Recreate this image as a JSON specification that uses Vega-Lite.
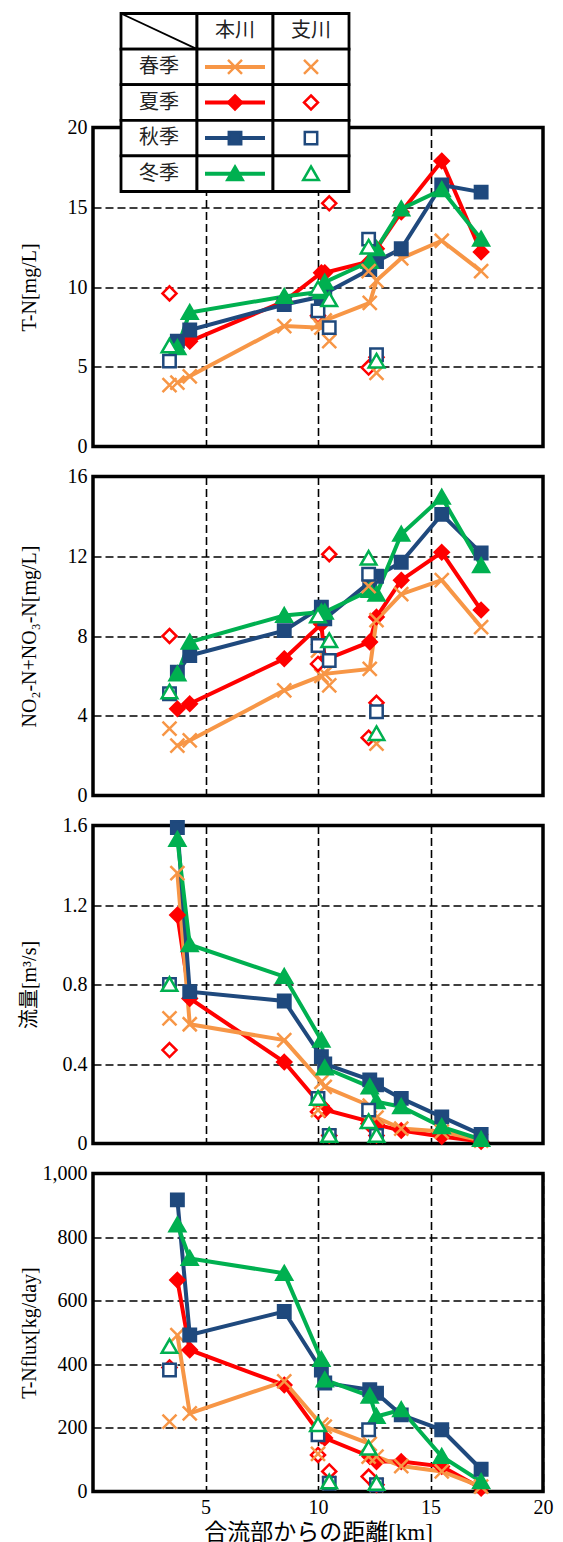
{
  "$schema": "https://vega.github.io/schema/vega-lite/v6.json",
  "background": "white",
  "padding": {"left": 17, "top": 7.5, "right": 5, "bottom": 5},
  "config": {
    "font": "Liberation Serif",
    "view": {"stroke": "black", "strokeWidth": 3.5},
    "axis": {
      "domain": false,
      "ticks": false,
      "grid": true,
      "gridColor": "black",
      "gridDash": [8, 4],
      "gridWidth": 1.6,
      "gridOpacity": 1,
      "labelFlush": false,
      "labelFont": "Liberation Serif",
      "labelFontSize": 20,
      "labelColor": "black",
      "labelPadding": 6,
      "titleFont": "Liberation Serif, Noto Sans CJK JP",
      "titleFontSize": 20,
      "titleFontWeight": "normal",
      "titleColor": "black"
    }
  },
  "datasets": {
    "river": [
      {"s": "夏季", "t": "本川", "km": 3.75, "TN": 6.4, "NOx": 4.35, "Q": 1.15, "F": 665},
      {"s": "夏季", "t": "本川", "km": 4.3, "TN": 6.6, "NOx": 4.6, "Q": 0.73, "F": 445},
      {"s": "夏季", "t": "本川", "km": 8.5, "TN": 9.1, "NOx": 6.86, "Q": 0.41, "F": 335},
      {"s": "夏季", "t": "本川", "km": 10.15, "TN": 10.9, "NOx": 8.6, "Q": 0.19, "F": 175},
      {"s": "夏季", "t": "本川", "km": 10.3, "TN": 10.9, "NOx": 6.8, "Q": 0.17, "F": 168},
      {"s": "夏季", "t": "本川", "km": 12.3, "TN": 11.6, "NOx": 7.7, "Q": 0.11, "F": 110},
      {"s": "夏季", "t": "本川", "km": 12.6, "TN": 12.4, "NOx": 8.95, "Q": 0.095, "F": 94},
      {"s": "夏季", "t": "本川", "km": 13.7, "TN": 14.7, "NOx": 10.8, "Q": 0.065, "F": 94},
      {"s": "夏季", "t": "本川", "km": 15.5, "TN": 17.9, "NOx": 12.2, "Q": 0.035, "F": 79},
      {"s": "夏季", "t": "本川", "km": 17.25, "TN": 12.2, "NOx": 9.3, "Q": 0.01, "F": 10},
      {"s": "夏季", "t": "支川", "km": 3.4, "TN": 9.6, "NOx": 8.0, "Q": 0.47, "F": 390},
      {"s": "夏季", "t": "支川", "km": 10.0, "TN": 8.2, "NOx": 6.6, "Q": 0.16, "F": 115},
      {"s": "夏季", "t": "支川", "km": 10.5, "TN": 15.25, "NOx": 12.1, "Q": 0.04, "F": 63},
      {"s": "夏季", "t": "支川", "km": 12.25, "TN": 4.95, "NOx": 2.9, "Q": 0.1, "F": 47},
      {"s": "夏季", "t": "支川", "km": 12.6, "TN": 5.6, "NOx": 4.65, "Q": 0.04, "F": 21},

      {"s": "春季", "t": "本川", "km": 3.75, "TN": 4.0, "NOx": 2.5, "Q": 1.36, "F": 492},
      {"s": "春季", "t": "本川", "km": 4.3, "TN": 4.4, "NOx": 2.76, "Q": 0.6, "F": 246},
      {"s": "春季", "t": "本川", "km": 8.5, "TN": 7.55, "NOx": 5.27, "Q": 0.52, "F": 346},
      {"s": "春季", "t": "本川", "km": 10.15, "TN": 7.45, "NOx": 6.0, "Q": 0.31, "F": 210},
      {"s": "春季", "t": "本川", "km": 10.3, "TN": 7.9, "NOx": 6.1, "Q": 0.285, "F": 204},
      {"s": "春季", "t": "本川", "km": 12.3, "TN": 9.0, "NOx": 6.35, "Q": 0.19, "F": 150},
      {"s": "春季", "t": "本川", "km": 12.6, "TN": 10.4, "NOx": 8.8, "Q": 0.13, "F": 110},
      {"s": "春季", "t": "本川", "km": 13.7, "TN": 11.8, "NOx": 10.1, "Q": 0.075, "F": 80},
      {"s": "春季", "t": "本川", "km": 15.5, "TN": 12.9, "NOx": 10.8, "Q": 0.06, "F": 63},
      {"s": "春季", "t": "本川", "km": 17.25, "TN": 11.0, "NOx": 8.45, "Q": 0.015, "F": 15},
      {"s": "春季", "t": "支川", "km": 3.4, "TN": 3.85, "NOx": 3.35, "Q": 0.63, "F": 220},
      {"s": "春季", "t": "支川", "km": 10.0, "TN": 7.7, "NOx": 7.27, "Q": 0.168, "F": 118},
      {"s": "春季", "t": "支川", "km": 10.5, "TN": 6.6, "NOx": 5.52, "Q": 0.04, "F": 26},
      {"s": "春季", "t": "支川", "km": 12.25, "TN": 11.0, "NOx": 10.5, "Q": 0.11, "F": 110},
      {"s": "春季", "t": "支川", "km": 12.6, "TN": 4.62, "NOx": 2.6, "Q": 0.04, "F": 21},

      {"s": "秋季", "t": "本川", "km": 3.75, "TN": 6.6, "NOx": 6.18, "Q": 1.59, "F": 917},
      {"s": "秋季", "t": "本川", "km": 4.3, "TN": 7.3, "NOx": 7.02, "Q": 0.764, "F": 492},
      {"s": "秋季", "t": "本川", "km": 8.5, "TN": 8.9, "NOx": 8.27, "Q": 0.717, "F": 566},
      {"s": "秋季", "t": "本川", "km": 10.15, "TN": 9.4, "NOx": 9.45, "Q": 0.437, "F": 382},
      {"s": "秋季", "t": "本川", "km": 10.3, "TN": 9.6, "NOx": 8.86, "Q": 0.4, "F": 341},
      {"s": "秋季", "t": "本川", "km": 12.3, "TN": 11.1, "NOx": 10.7, "Q": 0.32, "F": 320},
      {"s": "秋季", "t": "本川", "km": 12.6, "TN": 11.6, "NOx": 11.0, "Q": 0.295, "F": 309},
      {"s": "秋季", "t": "本川", "km": 13.7, "TN": 12.4, "NOx": 11.7, "Q": 0.227, "F": 241},
      {"s": "秋季", "t": "本川", "km": 15.5, "TN": 16.4, "NOx": 14.1, "Q": 0.134, "F": 194},
      {"s": "秋季", "t": "本川", "km": 17.25, "TN": 15.95, "NOx": 12.16, "Q": 0.045, "F": 70},
      {"s": "秋季", "t": "支川", "km": 3.4, "TN": 5.35, "NOx": 5.1, "Q": 0.8, "F": 382},
      {"s": "秋季", "t": "支川", "km": 10.0, "TN": 8.5, "NOx": 7.52, "Q": 0.227, "F": 178},
      {"s": "秋季", "t": "支川", "km": 10.5, "TN": 7.45, "NOx": 6.77, "Q": 0.04, "F": 26},
      {"s": "秋季", "t": "支川", "km": 12.25, "TN": 13.0, "NOx": 11.1, "Q": 0.168, "F": 194},
      {"s": "秋季", "t": "支川", "km": 12.6, "TN": 5.75, "NOx": 4.2, "Q": 0.04, "F": 21},

      {"s": "冬季", "t": "本川", "km": 3.75, "TN": 6.2, "NOx": 6.1, "Q": 1.53, "F": 838},
      {"s": "冬季", "t": "本川", "km": 4.3, "TN": 8.4, "NOx": 7.69, "Q": 1.0, "F": 733},
      {"s": "冬季", "t": "本川", "km": 8.5, "TN": 9.4, "NOx": 9.03, "Q": 0.84, "F": 686},
      {"s": "冬季", "t": "本川", "km": 10.15, "TN": 9.7, "NOx": 9.2, "Q": 0.52, "F": 415},
      {"s": "冬季", "t": "本川", "km": 10.3, "TN": 10.3, "NOx": 9.2, "Q": 0.38, "F": 351},
      {"s": "冬季", "t": "本川", "km": 12.3, "TN": 11.6, "NOx": 10.28, "Q": 0.285, "F": 300},
      {"s": "冬季", "t": "本川", "km": 12.6, "TN": 12.4, "NOx": 10.1, "Q": 0.21, "F": 236},
      {"s": "冬季", "t": "本川", "km": 13.7, "TN": 14.9, "NOx": 13.1, "Q": 0.185, "F": 257},
      {"s": "冬季", "t": "本川", "km": 15.5, "TN": 16.1, "NOx": 14.96, "Q": 0.084, "F": 110},
      {"s": "冬季", "t": "本川", "km": 17.25, "TN": 13.0, "NOx": 11.53, "Q": 0.02, "F": 31},
      {"s": "冬季", "t": "支川", "km": 3.4, "TN": 6.3, "NOx": 5.2, "Q": 0.8, "F": 456},
      {"s": "冬季", "t": "支川", "km": 10.0, "TN": 9.9, "NOx": 9.0, "Q": 0.227, "F": 210},
      {"s": "冬季", "t": "支川", "km": 10.5, "TN": 9.2, "NOx": 7.77, "Q": 0.04, "F": 30},
      {"s": "冬季", "t": "支川", "km": 12.25, "TN": 12.5, "NOx": 11.9, "Q": 0.11, "F": 136},
      {"s": "冬季", "t": "支川", "km": 12.6, "TN": 5.35, "NOx": 3.1, "Q": 0.04, "F": 25}
    ],
    "legendTable": [
      {"r": "hdr", "c": "c0"},
      {"r": "hdr", "c": "本川", "txt": "本川"},
      {"r": "hdr", "c": "支川", "txt": "支川"},
      {"r": "春季", "c": "c0", "txt": "春季"},
      {"r": "春季", "c": "本川", "s": "春季"},
      {"r": "春季", "c": "支川", "s": "春季"},
      {"r": "夏季", "c": "c0", "txt": "夏季"},
      {"r": "夏季", "c": "本川", "s": "夏季"},
      {"r": "夏季", "c": "支川", "s": "夏季"},
      {"r": "秋季", "c": "c0", "txt": "秋季"},
      {"r": "秋季", "c": "本川", "s": "秋季"},
      {"r": "秋季", "c": "支川", "s": "秋季"},
      {"r": "冬季", "c": "c0", "txt": "冬季"},
      {"r": "冬季", "c": "本川", "s": "冬季"},
      {"r": "冬季", "c": "支川", "s": "冬季"}
    ]
  },
  "bounds": "flush",
  "spacing": 30,
  "vconcat": [
    {
      "width": 450,
      "height": 319,
      "resolve": {"scale": {"x": "independent", "y": "independent"}},
      "layer": [
        {
          "data": {"name": "river"},
          "encoding": {
            "x": {"field": "km", "type": "quantitative", "scale": {"domain": [0, 20], "nice": false, "zero": false}, "axis": {"values": [5, 10, 15], "labels": false, "title": null}},
            "y": {"field": "TN", "type": "quantitative", "scale": {"domain": [0, 20], "nice": false}, "axis": {"values": [0, 5, 10, 15, 20], "title": "T-N[mg/L]", "titleX": -54}}
          },
          "layer": [
            {"transform": [{"filter": "datum.t === '本川'"}], "mark": {"type": "line", "strokeWidth": 4},
             "encoding": {"color": {"field": "s", "type": "nominal", "scale": {"domain": ["春季", "夏季", "秋季", "冬季"], "range": ["#F79646", "#FF0000", "#1F497D", "#00B050"]}, "legend": null}}},
            {"transform": [{"filter": "datum.t === '本川'"}], "mark": {"type": "point", "size": 4, "strokeWidth": 2.5, "opacity": 1, "filled": true},
             "encoding": {
               "fill": {"field": "s", "type": "nominal", "scale": {"domain": ["春季", "夏季", "秋季", "冬季"], "range": ["#F79646", "#FF0000", "#1F497D", "#00B050"]}, "legend": null},
               "stroke": {"field": "s", "type": "nominal", "scale": {"domain": ["春季", "夏季", "秋季", "冬季"], "range": ["#F79646", "#FF0000", "#1F497D", "#00B050"]}, "legend": null},
               "shape": {"field": "s", "type": "nominal", "scale": {"domain": ["春季", "夏季", "秋季", "冬季"], "range": ["M-7,-7L7,7M-7,7L7,-7", "M0,-7L7,0L0,7L-7,0Z", "M-6.2,-6.2H6.2V6.2H-6.2Z", "M0,-7.2L7.8,6.3H-7.8Z"]}, "legend": null}}},
            {"transform": [{"filter": "datum.t === '支川'"}], "mark": {"type": "point", "size": 4, "strokeWidth": 2.5, "opacity": 1, "filled": true, "fill": "white"},
             "encoding": {
               "stroke": {"field": "s", "type": "nominal", "legend": null},
               "shape": {"field": "s", "type": "nominal", "legend": null}}}
          ]
        },
        {
          "data": {"name": "legendTable"},
          "encoding": {
            "x": {"field": "c", "type": "nominal", "scale": {"type": "band", "domain": ["c0", "本川", "支川"], "range": [28, 256], "paddingInner": 0, "paddingOuter": 0}, "axis": null},
            "y": {"field": "r", "type": "nominal", "scale": {"type": "band", "domain": ["hdr", "春季", "夏季", "秋季", "冬季"], "range": [-114, 64], "paddingInner": 0, "paddingOuter": 0}, "axis": null}
          },
          "layer": [
            {"mark": {"type": "rect", "fill": "white", "stroke": "black", "strokeWidth": 2.8}},
            {"transform": [{"filter": "datum.txt"}], "mark": {"type": "text", "font": "Noto Sans CJK JP", "fontSize": 20, "fill": "#222222"},
             "encoding": {"text": {"field": "txt", "type": "nominal"}}},
            {"transform": [{"filter": "datum.r === 'hdr' && datum.c === 'c0'"}], "mark": {"type": "point", "shape": "M-38,-17.8L38,17.8", "size": 4, "stroke": "black", "strokeWidth": 1.8, "filled": false, "opacity": 1}},
            {"transform": [{"filter": "datum.c === '本川' && datum.s"}], "mark": {"type": "point", "shape": "M-30,0H30", "size": 4, "strokeWidth": 4, "filled": false, "opacity": 1},
             "encoding": {"stroke": {"field": "s", "type": "nominal", "legend": null}}},
            {"transform": [{"filter": "datum.c === '本川' && datum.s"}], "mark": {"type": "point", "size": 4, "strokeWidth": 2.5, "opacity": 1, "filled": true},
             "encoding": {
               "fill": {"field": "s", "type": "nominal", "legend": null},
               "stroke": {"field": "s", "type": "nominal", "legend": null},
               "shape": {"field": "s", "type": "nominal", "legend": null}}},
            {"transform": [{"filter": "datum.c === '支川' && datum.s"}], "mark": {"type": "point", "size": 4, "strokeWidth": 2.5, "opacity": 1, "filled": true, "fill": "white"},
             "encoding": {
               "stroke": {"field": "s", "type": "nominal", "legend": null},
               "shape": {"field": "s", "type": "nominal", "legend": null}}}
          ]
        }
      ]
    },
    {
      "width": 450,
      "height": 319,
      "data": {"name": "river"},
      "encoding": {
        "x": {"field": "km", "type": "quantitative", "scale": {"domain": [0, 20], "nice": false, "zero": false}, "axis": {"values": [5, 10, 15], "labels": false, "title": null}},
        "y": {"field": "NOx", "type": "quantitative", "scale": {"domain": [0, 16], "nice": false}, "axis": {"values": [0, 4, 8, 12, 16], "title": "NO₂-N+NO₃-N[mg/L]", "titleX": -54}}
      },
      "layer": [
        {"transform": [{"filter": "datum.t === '本川'"}], "mark": {"type": "line", "strokeWidth": 4},
         "encoding": {"color": {"field": "s", "type": "nominal", "scale": {"domain": ["春季", "夏季", "秋季", "冬季"], "range": ["#F79646", "#FF0000", "#1F497D", "#00B050"]}, "legend": null}}},
        {"transform": [{"filter": "datum.t === '本川'"}], "mark": {"type": "point", "size": 4, "strokeWidth": 2.5, "opacity": 1, "filled": true},
         "encoding": {
           "fill": {"field": "s", "type": "nominal", "scale": {"domain": ["春季", "夏季", "秋季", "冬季"], "range": ["#F79646", "#FF0000", "#1F497D", "#00B050"]}, "legend": null},
           "stroke": {"field": "s", "type": "nominal", "scale": {"domain": ["春季", "夏季", "秋季", "冬季"], "range": ["#F79646", "#FF0000", "#1F497D", "#00B050"]}, "legend": null},
           "shape": {"field": "s", "type": "nominal", "scale": {"domain": ["春季", "夏季", "秋季", "冬季"], "range": ["M-7,-7L7,7M-7,7L7,-7", "M0,-7L7,0L0,7L-7,0Z", "M-6.2,-6.2H6.2V6.2H-6.2Z", "M0,-7.2L7.8,6.3H-7.8Z"]}, "legend": null}}},
        {"transform": [{"filter": "datum.t === '支川'"}], "mark": {"type": "point", "size": 4, "strokeWidth": 2.5, "opacity": 1, "filled": true, "fill": "white"},
         "encoding": {
           "stroke": {"field": "s", "type": "nominal", "legend": null},
           "shape": {"field": "s", "type": "nominal", "legend": null}}}
      ]
    },
    {
      "width": 450,
      "height": 318,
      "data": {"name": "river"},
      "encoding": {
        "x": {"field": "km", "type": "quantitative", "scale": {"domain": [0, 20], "nice": false, "zero": false}, "axis": {"values": [5, 10, 15], "labels": false, "title": null}},
        "y": {"field": "Q", "type": "quantitative", "scale": {"domain": [0, 1.6], "nice": false}, "axis": {"values": [0, 0.4, 0.8, 1.2, 1.6], "format": ".1~f", "title": "流量[m³/s]", "titleX": -54}}
      },
      "layer": [
        {"transform": [{"filter": "datum.t === '本川'"}], "mark": {"type": "line", "strokeWidth": 4},
         "encoding": {"color": {"field": "s", "type": "nominal", "scale": {"domain": ["春季", "夏季", "秋季", "冬季"], "range": ["#F79646", "#FF0000", "#1F497D", "#00B050"]}, "legend": null}}},
        {"transform": [{"filter": "datum.t === '本川'"}], "mark": {"type": "point", "size": 4, "strokeWidth": 2.5, "opacity": 1, "filled": true},
         "encoding": {
           "fill": {"field": "s", "type": "nominal", "scale": {"domain": ["春季", "夏季", "秋季", "冬季"], "range": ["#F79646", "#FF0000", "#1F497D", "#00B050"]}, "legend": null},
           "stroke": {"field": "s", "type": "nominal", "scale": {"domain": ["春季", "夏季", "秋季", "冬季"], "range": ["#F79646", "#FF0000", "#1F497D", "#00B050"]}, "legend": null},
           "shape": {"field": "s", "type": "nominal", "scale": {"domain": ["春季", "夏季", "秋季", "冬季"], "range": ["M-7,-7L7,7M-7,7L7,-7", "M0,-7L7,0L0,7L-7,0Z", "M-6.2,-6.2H6.2V6.2H-6.2Z", "M0,-7.2L7.8,6.3H-7.8Z"]}, "legend": null}}},
        {"transform": [{"filter": "datum.t === '支川'"}], "mark": {"type": "point", "size": 4, "strokeWidth": 2.5, "opacity": 1, "filled": true, "fill": "white"},
         "encoding": {
           "stroke": {"field": "s", "type": "nominal", "legend": null},
           "shape": {"field": "s", "type": "nominal", "legend": null}}}
      ]
    },
    {
      "width": 450,
      "height": 318,
      "data": {"name": "river"},
      "encoding": {
        "x": {"field": "km", "type": "quantitative", "scale": {"domain": [0, 20], "nice": false, "zero": false}, "axis": {"values": [5, 10, 15, 20], "title": "合流部からの距離[km]", "titleFontSize": 23, "titlePadding": 4}},
        "y": {"field": "F", "type": "quantitative", "scale": {"domain": [0, 1000], "nice": false}, "axis": {"values": [0, 200, 400, 600, 800, 1000], "format": ",.0f", "title": "T-Nflux[kg/day]", "titleX": -54}}
      },
      "layer": [
        {"transform": [{"filter": "datum.t === '本川'"}], "mark": {"type": "line", "strokeWidth": 4},
         "encoding": {"color": {"field": "s", "type": "nominal", "scale": {"domain": ["春季", "夏季", "秋季", "冬季"], "range": ["#F79646", "#FF0000", "#1F497D", "#00B050"]}, "legend": null}}},
        {"transform": [{"filter": "datum.t === '本川'"}], "mark": {"type": "point", "size": 4, "strokeWidth": 2.5, "opacity": 1, "filled": true},
         "encoding": {
           "fill": {"field": "s", "type": "nominal", "scale": {"domain": ["春季", "夏季", "秋季", "冬季"], "range": ["#F79646", "#FF0000", "#1F497D", "#00B050"]}, "legend": null},
           "stroke": {"field": "s", "type": "nominal", "scale": {"domain": ["春季", "夏季", "秋季", "冬季"], "range": ["#F79646", "#FF0000", "#1F497D", "#00B050"]}, "legend": null},
           "shape": {"field": "s", "type": "nominal", "scale": {"domain": ["春季", "夏季", "秋季", "冬季"], "range": ["M-7,-7L7,7M-7,7L7,-7", "M0,-7L7,0L0,7L-7,0Z", "M-6.2,-6.2H6.2V6.2H-6.2Z", "M0,-7.2L7.8,6.3H-7.8Z"]}, "legend": null}}},
        {"transform": [{"filter": "datum.t === '支川'"}], "mark": {"type": "point", "size": 4, "strokeWidth": 2.5, "opacity": 1, "filled": true, "fill": "white"},
         "encoding": {
           "stroke": {"field": "s", "type": "nominal", "legend": null},
           "shape": {"field": "s", "type": "nominal", "legend": null}}}
      ]
    }
  ]
}
